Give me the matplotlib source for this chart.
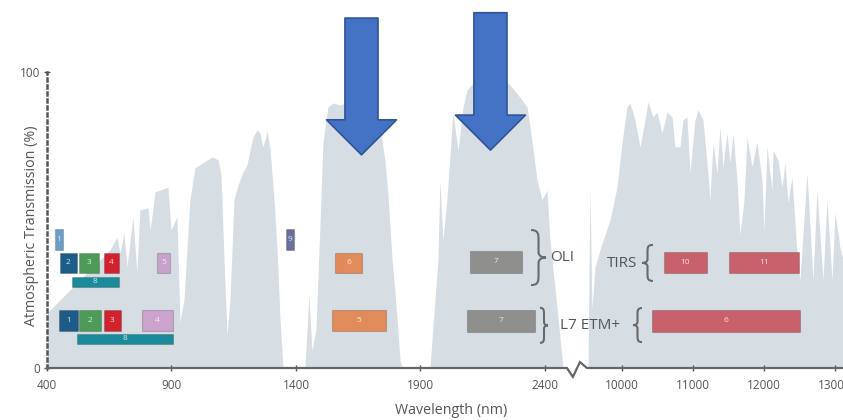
import numpy as np
import matplotlib
matplotlib.use("Agg")
import matplotlib.pyplot as plt
from matplotlib.path import Path
from matplotlib.patches import PathPatch
import matplotlib.transforms as mtransforms

plt.rcParams['font.family'] = ['Open Sans', 'DejaVu Sans']

# ---------------- data ----------------
wavelength = [400, 653, 681, 693, 709, 721, 745, 761, 773, 806, 814, 834, 886, 898, 922, 934, 950, 974, 994,
              1063, 1087, 1099, 1111, 1123, 1135, 1151, 1167, 1187, 1203, 1227, 1243, 1255, 1267, 1284, 1296,
              1312, 1324, 1336, 1348, 1436, 1452, 1464, 1480, 1496, 1508, 1528, 1549, 1577, 1637, 1697, 1737,
              1757, 1769, 1786, 1798, 1818, 1826, 1938, 1958, 1970, 1978, 1990, 2006, 2030, 2051, 2071, 2087,
              2139, 2199, 2259, 2292, 2328, 2340, 2368, 2388, 2408, 2420, 2448, 2472, 2480, 9521, 9549, 9577,
              9620, 9690, 9831, 9930, 10000, 10070, 10113, 10183, 10254, 10324, 10366, 10437, 10493, 10563,
              10634, 10704, 10746, 10817, 10859, 10915, 10958, 11028, 11070, 11141, 11197, 11239, 11282, 11338,
              11380, 11423, 11479, 11521, 11563, 11620, 11662, 11718, 11761, 11831, 11901, 11972, 12000, 12042,
              12113, 12127, 12197, 12254, 12296, 12338, 12394, 12465, 12507, 12606, 12690, 12746, 12831, 12887,
              12958, 13000, 13070, 13113]
transmission = [18.6, 39.9, 44.3, 38.9, 45.6, 34.1, 51.0, 32.1, 53.4, 54.1, 46.6, 59.5, 61.1, 46.6, 51.0, 15.5,
                23.0, 56.8, 67.6, 71.3, 70.3, 65.2, 36.5, 11.1, 23.0, 56.8, 61.8, 66.2, 68.6, 78.0, 80.4, 79.4,
                74.7, 80.1, 73.6, 56.8, 39.9, 16.2, 0, 0, 24.7, 6.0, 12.8, 47.6, 76.0, 88.2, 89.5, 88.9, 90.5,
                88.9, 81.4, 70.3, 59.1, 36.5, 25.3, 2.7, 0, 0, 23.0, 36.5, 63.5, 43.2, 56.8, 86.1, 73.6, 88.2,
                93.9, 99.0, 100.0, 95.6, 92.2, 88.2, 81.4, 63.5, 56.8, 60.1, 43.2, 20.6, 0.3, 0, 0, 61.1, 20.0,
                34.0, 40.0, 50.0, 61.1, 76.0, 88.2, 89.5, 83.8, 74.7, 83.8, 89.9, 84.8, 86.5, 79.4, 86.5, 84.8,
                74.7, 74.7, 83.8, 84.8, 65.9, 83.8, 87.2, 83.8, 69.3, 56.8, 76.0, 65.9, 81.4, 67.9, 79.4, 69.3,
                79.4, 63.5, 44.9, 56.8, 78.0, 67.9, 76.4, 63.5, 46.6, 74.7, 60.1, 73.6, 70.3, 61.1, 69.3, 55.7,
                64.5, 38.9, 29.7, 65.9, 29.7, 60.1, 29.7, 56.8, 29.7, 52.4, 40.9, 36.5]

# OLI / TIRS bands (Landsat 8)
oli_labels = ['1', '2', '3', '4', '5', '8', '9', '6', '7', '10', '11']
oli_start = [432, 452, 528, 629, 843, 500, 1358, 1558, 2097, 10590, 11505]
oli_end = [463, 520, 609, 689, 893, 689, 1394, 1667, 2306, 11195, 12495]
oli_bottom = [39.9, 32.1, 32.1, 32.1, 32.1, 27.4, 39.9, 32.1, 32.1, 32.1, 32.1]
oli_top = [46.8, 38.9, 38.9, 38.9, 38.9, 30.8, 46.8, 38.9, 39.6, 39.2, 39.2]
oli_colors = ['#6d9cc6', '#1d5b88', '#4d9b57', '#d2222e', '#c9a1c9', '#1a8b9b', '#6b6f9c', '#e28b5a',
              '#8f8f8e', '#c8616b', '#c8616b']

# ETM+ bands (Landsat 7)
etm_labels = ['1', '2', '3', '4', '8', '5', '7', '6']
etm_start = [449, 529, 629, 781, 520, 1545, 2087, 10422]
etm_end = [524, 615, 697, 906, 906, 1761, 2360, 12507]
etm_bottom = [12.5, 12.5, 12.5, 12.5, 8.1, 12.5, 12.2, 12.2]
etm_top = [19.6, 19.6, 19.6, 19.6, 11.6, 19.6, 19.6, 19.6]
etm_colors = ['#1d5b88', '#4d9b57', '#d2222e', '#cba3cc', '#1a8b9b', '#e28b5a', '#8f8f8e', '#c8616b']

# highlight arrows
arrow_x = [1663, 2181]
arrow_tip = [72.0, 73.6]
arrow_tail = [118.2, 120.0]

x_ticks = [400, 900, 1400, 1900, 2400, 10000, 11000, 12000, 13000]

# x-axis line with break
axis_x = [400, 2488, 3773, 6742, 9507, 13113]
axis_y = [0, 0, -3.0, 2.0, 0, 0]

# ---------------- broken x scale ----------------
knot_x = np.array([0.0, 400.0, 2500.0, 9500.0, 20000.0])
knot_u = np.array([-99.6, 0.0, 522.9, 539.5, 1285.0])


def fwd(x):
    return np.interp(np.asarray(x, dtype=float), knot_x, knot_u)


def inv(u):
    return np.interp(np.asarray(u, dtype=float), knot_u, knot_x)


W, H = 843, 420
fig = plt.figure(figsize=(W / 100, H / 100), dpi=100)
ax = fig.add_axes([47 / W, 52 / H, 796 / W, 368 / H])
ax.set_xscale('function', functions=(fwd, inv))
ax.set_xlim(400, 13113)
ax.set_ylim(0, 124.3)

gray = '#555555'

ax.fill_between(wavelength, transmission, 0, color='#d6dee4', lw=0, zorder=1)

# band boxes
for starts, ends, bots, tops, cols, labs in [
        (oli_start, oli_end, oli_bottom, oli_top, oli_colors, oli_labels),
        (etm_start, etm_end, etm_bottom, etm_top, etm_colors, etm_labels)]:
    widths = [e - s for s, e in zip(starts, ends)]
    heights = [t - b for b, t in zip(bots, tops)]
    ax.bar(starts, heights, width=widths, bottom=bots, align='edge', color=cols,
           edgecolor=(0, 0, 0, 0.18), linewidth=0.8, zorder=3)
    for s, e, b, t, lab in zip(starts, ends, bots, tops, labs):
        ax.text((s + e) / 2, (b + t) / 2, lab, ha='center', va='center', fontsize=6,
                color='white', alpha=0.8, zorder=4)

# arrows
for xa, tip, tail in zip(arrow_x, arrow_tip, arrow_tail):
    ax.annotate('', xy=(xa, tip), xytext=(xa, tail),
                arrowprops=dict(arrowstyle='simple,head_width=5.04,head_length=2.52,tail_width=2.38',
                                mutation_scale=10, fc='#4472c4', ec='#2f5597', lw=1.2,
                                shrinkA=0, shrinkB=0), zorder=6)

# axes styling
for s in ['top', 'right', 'bottom']:
    ax.spines[s].set_visible(False)
ax.spines['left'].set_bounds(0, 100)
ax.spines['left'].set_linestyle((0, (1.2, 1.6)))
ax.spines['left'].set_linewidth(1.8)
ax.spines['left'].set_color(gray)

ax.plot(axis_x, axis_y, color='#666666', lw=1.6, clip_on=False, zorder=5, solid_joinstyle='miter')

ax.set_xticks(x_ticks)
ax.set_xticklabels([str(t) for t in x_ticks])
ax.xaxis.set_minor_locator(matplotlib.ticker.NullLocator())
ax.set_yticks([0, 100])
ax.set_yticklabels(['0', '100'])
ax.tick_params(axis='x', direction='inout', length=4, width=1, color=gray, labelcolor=gray,
               labelsize=8.5, pad=6)
ax.tick_params(axis='y', direction='inout', length=4, width=1, color=gray, labelcolor=gray,
               labelsize=8.5, pad=3)

fig.text(32 / W, 1 - 226 / H, 'Atmospheric Transmission (%)', rotation=90, ha='center', va='center',
         fontsize=10.3, color=gray)
fig.text(451 / W, 1 - 411 / H, 'Wavelength (nm)', ha='center', va='center', fontsize=10.3, color=gray)

# sensor labels
ax.text(2420, 37.2, 'OLI', ha='left', va='center', fontsize=11, color=gray, zorder=4)
ax.text(2460, 14.3, 'L7 ETM+', ha='left', va='center', fontsize=11, color=gray, zorder=4)
ax.text(9789, 35.3, 'TIRS', ha='left', va='center', fontsize=11, color=gray, zorder=4)


def brace(xd, yd, half_h, w, facing):
    x0, y0 = ax.transData.transform((xd, yd))
    h = half_h
    pts = [(0, h), (w * .5, h), (w * .5, h * .85), (w * .5, h * .6), (w * .5, h * .2), (w * .5, h * .05),
           (w * .75, 0), (w, 0), (w * .75, 0), (w * .5, -h * .05), (w * .5, -h * .2), (w * .5, -h * .6),
           (w * .5, -h * .85), (w * .5, -h), (0, -h)]
    if facing == 'left':
        pts = [(w - px, py) for px, py in pts]
    codes = [Path.MOVETO, Path.CURVE4, Path.CURVE4, Path.CURVE4, Path.LINETO, Path.CURVE4, Path.CURVE4,
             Path.CURVE4, Path.CURVE4, Path.CURVE4, Path.CURVE4, Path.LINETO, Path.CURVE4, Path.CURVE4,
             Path.CURVE4]
    verts = [(x0 + px, y0 + py) for px, py in pts]
    patch = PathPatch(Path(verts, codes), transform=mtransforms.IdentityTransform(), fill=False,
                      ec='#6a6a6a', lw=1.5, zorder=4)
    fig.add_artist(patch)


brace(2344, 37.3, 27.5, 15, 'right')
brace(2380, 14.4, 17.5, 8, 'right')
brace(10282, 35.5, 18, 11, 'left')
brace(10155, 14.5, 17, 9, 'left')

fig.savefig('out.png', dpi=100)
